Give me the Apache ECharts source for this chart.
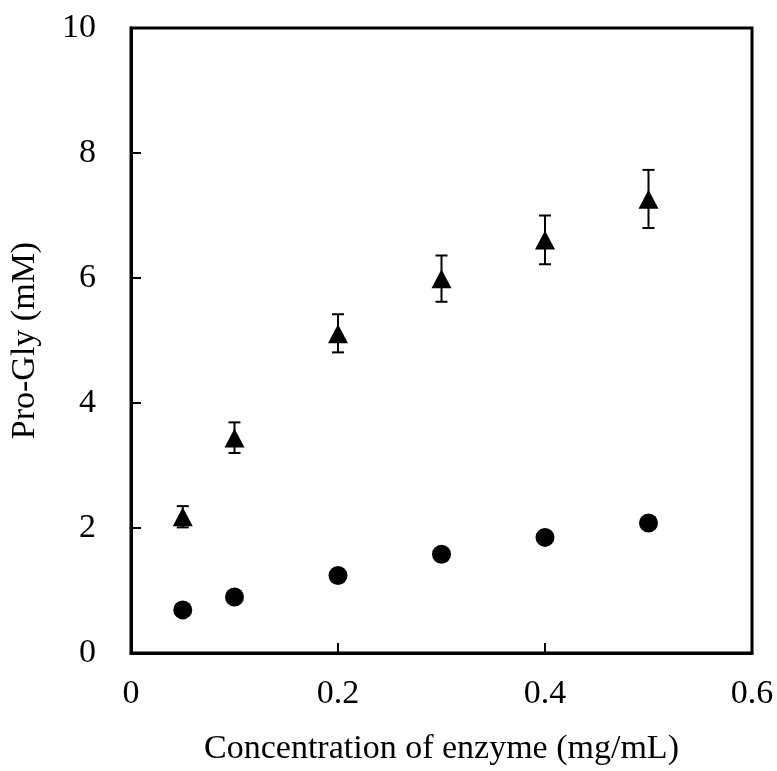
<!DOCTYPE html>
<html>
<head>
<meta charset="utf-8">
<script src="https://cdn.jsdelivr.net/npm/echarts@6/dist/echarts.min.js"></script>
<style>html,body{margin:0;padding:0;background:#fff;}#c{width:777px;height:771px;}</style>
</head>
<body>
<div id="c"></div>
<script>
const concentrations = [0.05, 0.1, 0.2, 0.3, 0.4, 0.5];
const triangleMeans = [2.18, 3.44, 5.11, 5.99, 6.61, 7.26];
const triangleLow   = [2.01, 3.20, 4.81, 5.62, 6.22, 6.80];
const triangleHigh  = [2.35, 3.69, 5.42, 6.36, 7.00, 7.73];
const circleMeans   = [0.69, 0.895, 1.24, 1.58, 1.85, 2.08];
const xTicks = { min: 0, max: 0.6, interval: 0.2 };
const yTicks = { min: 0, max: 10, interval: 2 };

const font = 'Liberation Serif';
const chart = echarts.init(document.getElementById('c'), null, { renderer: 'canvas' });

const errData = concentrations.map((x, i) => [x, triangleLow[i], triangleHigh[i]]);

chart.setOption({
  backgroundColor: '#fff',
  animation: false,
  grid: { left: 125, right: 25, top: 28, bottom: 115, show: true, borderColor: '#000', borderWidth: 3, backgroundColor: 'transparent' },
  xAxis: {
    type: 'value', min: xTicks.min, max: xTicks.max, interval: xTicks.interval,
    name: 'Concentration of enzyme (mg/mL)', nameLocation: 'middle', nameGap: 79,
    nameTextStyle: { fontFamily: font, fontSize: 34, color: '#000' },
    axisLine: { show: true, onZero: false, lineStyle: { color: '#000', width: 3 } },
    axisTick: { show: true, inside: true, length: 10, lineStyle: { color: '#000', width: 2 } },
    axisLabel: { fontFamily: font, fontSize: 34, color: '#000', margin: 24 },
    splitLine: { show: false }
  },
  yAxis: {
    type: 'value', min: yTicks.min, max: yTicks.max, interval: yTicks.interval,
    name: 'Pro-Gly (mM)', nameLocation: 'middle', nameGap: 89, nameRotate: 90,
    nameTextStyle: { fontFamily: font, fontSize: 34, color: '#000' },
    axisLine: { show: true, onZero: false, lineStyle: { color: '#000', width: 3 } },
    axisTick: { show: true, inside: true, length: 10, lineStyle: { color: '#000', width: 2 } },
    axisLabel: { fontFamily: font, fontSize: 34, color: '#000', margin: 35 },
    splitLine: { show: false }
  },
  series: [
    {
      type: 'custom',
      z: 1,
      data: errData,
      renderItem: function (params, api) {
        const x = api.value(0);
        const lo = api.coord([x, api.value(1)]);
        const hi = api.coord([x, api.value(2)]);
        const hw = 6;
        const style = { stroke: '#000', lineWidth: 2 };
        return {
          type: 'group',
          children: [
            { type: 'line', shape: { x1: lo[0], y1: lo[1], x2: hi[0], y2: hi[1] }, style: style },
            { type: 'line', shape: { x1: lo[0] - hw, y1: lo[1], x2: lo[0] + hw, y2: lo[1] }, style: style },
            { type: 'line', shape: { x1: hi[0] - hw, y1: hi[1], x2: hi[0] + hw, y2: hi[1] }, style: style }
          ]
        };
      }
    },
    {
      type: 'scatter', z: 3,
      symbol: 'triangle', symbolSize: [20, 19],
      itemStyle: { color: '#000', opacity: 1 },
      data: concentrations.map((x, i) => [x, triangleMeans[i]])
    },
    {
      type: 'scatter', z: 3,
      symbol: 'circle', symbolSize: 19,
      itemStyle: { color: '#000', opacity: 1 },
      data: concentrations.map((x, i) => [x, circleMeans[i]])
    }
  ]
});
</script>
</body>
</html>
